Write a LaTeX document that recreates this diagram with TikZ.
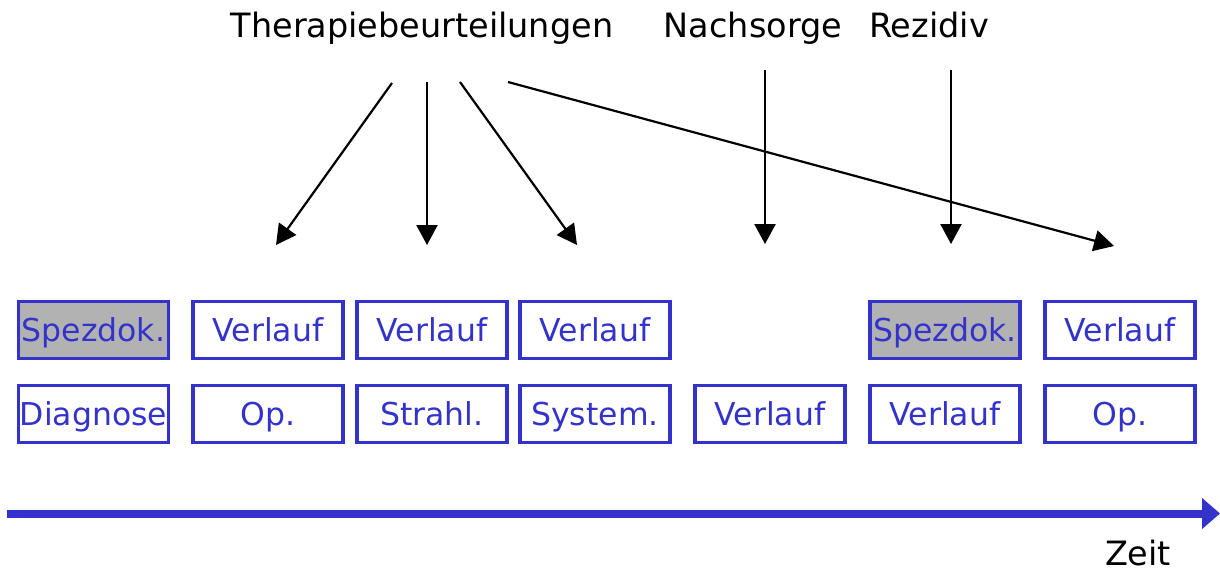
\documentclass[tikz,border=0pt]{standalone}
\usepackage{fontspec}
\setmainfont{DejaVu Sans}
\usepackage{tikz}
\usetikzlibrary{arrows.meta, shapes, positioning}

\definecolor{boxblue}{RGB}{51,51,204}
\definecolor{spezgray}{RGB}{178,178,178}

\tikzset{
    box/.style={draw=boxblue, line width=3.2pt, text=boxblue, inner sep=1pt,
        minimum width=150pt, minimum height=57pt, text height=23pt, text depth=0pt,
        font=\fontsize{31.5}{37}\selectfont},
    spezbox/.style={box, fill=spezgray},
    label/.style={font=\fontsize{33.5}{40}\selectfont, anchor=base},
    pointer/.style={line width=2.2pt, -{Triangle[length=20pt, width=21pt]}}
}

\begin{document}
\begin{tikzpicture}[x=1pt, y=-1pt]

        \useasboundingbox (0,0) rectangle (1220,571);

        % Labels on top
        \node[label] (thera) at (422,37) {Therapiebeurteilungen};
        \node[label] (nach) at (753,37) {Nachsorge};
        \node[label] (rez) at (929,37) {Rezidiv};

        % Lower row
        \node[box] (diag) at (93.5,414) {Diagnose};
        \node[box] (op1) at (268,414) {Op.};
        \node[box] (strahl) at (432,414) {Strahl.};
        \node[box] (system) at (595,414) {System.};
        \node[box] (verl5) at (770,414) {Verlauf};
        \node[box] (verl6) at (945,414) {Verlauf};
        \node[box] (op2) at (1120,414) {Op.};

        % Upper row
        \node[spezbox, above=24pt of diag] (spez1) {Spezdok.};
        \node[box, above=24pt of op1] (verl1) {Verlauf};
        \node[box, above=24pt of strahl] (verl2) {Verlauf};
        \node[box, above=24pt of system] (verl3) {Verlauf};
        \node[spezbox, above=24pt of verl6] (spez2) {Spezdok.};
        \node[box, above=24pt of op2] (verl7) {Verlauf};

        % Arrow ends
        \coordinate (ta) at (392,83);
        \coordinate (tb) at (427,82);
        \coordinate (tc) at (460,82);
        \coordinate (td) at (508,82);
        \coordinate (na) at (765,70);
        \coordinate (ra) at (951,70);
        \coordinate (ea) at (276,245);
        \coordinate (eb) at (427,245);
        \coordinate (ec) at (577,245);
        \coordinate (ed) at (1114,246);
        \coordinate (ne) at (765,244);
        \coordinate (re) at (951,244);

        % Arrows
        \draw[pointer] (ta) -- (ea);
        \draw[pointer] (tb) -- (eb);
        \draw[pointer] (tc) -- (ec);
        \draw[pointer] (td) -- (ed);
        \draw[pointer] (na) -- (ne);
        \draw[pointer] (ra) -- (re);

        % Time axis
        \coordinate (start) at (7,513.5);
        \coordinate (stop) at (1220,513.5);
        \draw[boxblue, line width=8pt, -{Triangle[length=18pt, width=30pt]}] (start) -- (stop);
        \node[label] (zeit) at (1138,565) {Zeit};

    \end{tikzpicture}
\end{document}
